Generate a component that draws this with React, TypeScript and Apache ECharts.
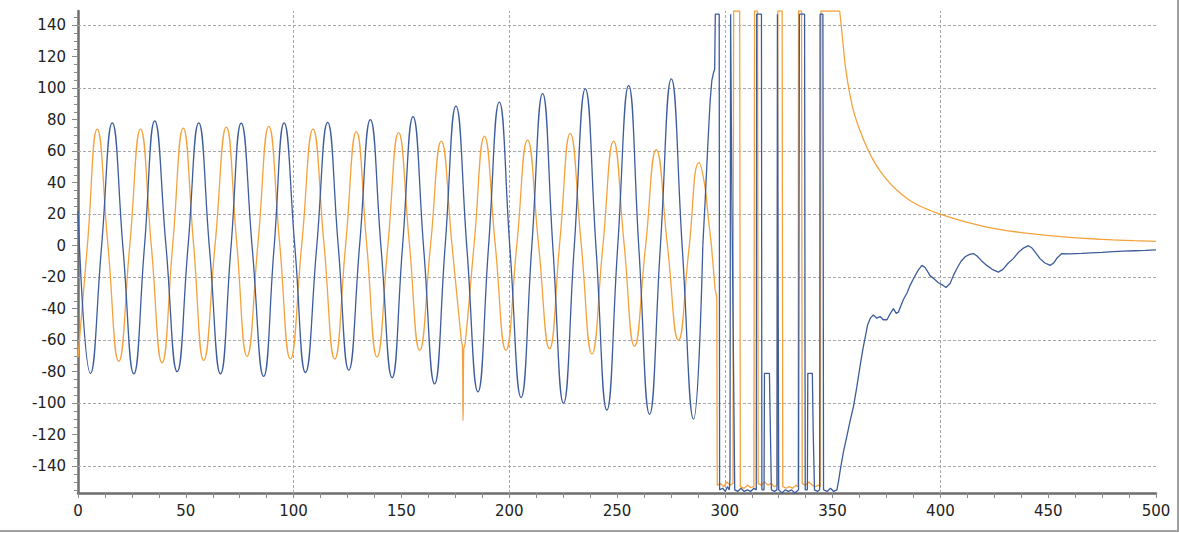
import React, { useEffect, useRef } from "react";
import * as echarts from "echarts";

// ---- data (x, y) ----
const orangeWave: [number, number][] = [
  [0, -71], [4.4, 1], [8.9, 74], [13.9, 0], [18.9, -73.4], [24.0, 0], [29.0, 74], [34.0, 0],
  [39.0, -74.4], [43.9, 0], [48.8, 74.7], [53.6, 1], [58.3, -72.8], [63.6, 1], [68.8, 75.3],
  [73.6, 2], [78.4, -70.2], [83.5, 2], [88.5, 75.7], [93.5, 2], [98.5, -71.9], [103.8, 1],
  [109.0, 74], [114.1, 1], [119.1, -71.9], [124.1, 0], [129.1, 72.4], [133.9, 1], [138.7, -70.8],
  [143.7, 0], [148.7, 71.8], [153.6, 3], [158.5, -66.5], [163.5, 0], [168.5, 66.4], [173.5, 0],
  [177.8, -60], [178.3, -64], [178.6, -111], [178.9, -66], [179.6, -62], [183.8, 2], [188.5, 69.6],
  [193.5, 1], [198.5, -66.5], [203.5, 0], [208.5, 67], [213.6, 1], [218.7, -65.4], [223.5, 3],
  [228.3, 71.3], [233.4, 1], [238.4, -68.7], [243.4, -1], [248.4, 66.4], [253.3, 1], [258.1, -63.9],
  [263.2, -1], [268.2, 61], [273.4, 0], [278.5, -60], [283.3, -3], [288.1, 52.8], [290.5, 40], [292.0, 22],
];

const orangeRest: [number, number][] = [
  [292.0, 22], [293.8, 0], [295.5, -27.6], [296.3, -33], [296.5, -152], [298.0, -151], [299.5, -153],
  [301.0, -150], [302.5, -152], [303.8, -151], [304.1, 149], [306.9, 149], [307.2, -153], [309.0, -154],
  [310.5, -152], [312.0, -153.5], [313.5, -153], [313.8, 149], [315.2, 149], [315.5, -151], [317.0, -152],
  [318.5, -150], [320.0, -152], [321.5, -151], [323.0, -153], [324.3, -152], [324.6, 149], [326.6, 149],
  [326.9, -153], [328.5, -154], [330.0, -153], [331.5, -154], [333.0, -152], [334.0, -153], [334.2, 149],
  [335.6, 149], [335.9, -151], [337.5, -152], [339.0, -150], [340.5, -152], [342.0, -153], [343.5, -152],
  [344.3, -153], [344.6, 149], [353.3, 149],
];

const orangeDecay: [number, number][] = [
  [353.3, 149], [354.5, 133], [356.0, 113], [358.0, 96], [360.0, 84], [363.0, 72], [366.0, 62],
  [369.0, 54], [372.0, 47.5], [376.0, 40.5], [380.0, 35], [385.0, 29.5], [390.0, 25.5], [395.0, 22.5],
  [400.0, 20], [406.0, 17.3], [412.0, 15], [420.0, 12.3], [428.0, 10.2], [436.0, 8.6], [444.0, 7.3],
  [452.0, 6.2], [460.0, 5.3], [470.0, 4.4], [480.0, 3.7], [490.0, 3.2], [500.0, 2.8],
];

const blueWave: [number, number][] = [
  [0, 22], [5.8, -81], [10.9, -1], [15.9, 78], [20.9, -2], [25.9, -81.4], [30.8, -1], [35.6, 79.3],
  [40.8, 0], [46.0, -80], [51.0, -1], [56.0, 78], [61.0, -2], [66.1, -81.4], [70.9, -2], [75.7, 77.8],
  [80.9, -3], [86.1, -83], [90.9, -2], [95.6, 78], [100.6, -1], [105.5, -80.5], [110.7, -1], [115.8, 78.3],
  [120.7, 0], [125.6, -79], [130.6, 0], [135.6, 80], [140.6, -2], [145.7, -83.8], [150.5, -1], [155.4, 82],
  [160.4, -3], [165.4, -87.7], [170.3, 0], [175.3, 88.6], [180.4, -2], [185.5, -92.8], [190.4, -1],
  [195.4, 91.2], [200.4, -3], [205.5, -96.3], [210.5, 0], [215.5, 96.6], [220.3, -2], [225.2, -100],
  [230.2, 0], [235.3, 99.5], [240.3, -2], [245.3, -104.3], [250.3, -1], [255.4, 101.6], [260.2, -3],
  [265.1, -107.1], [270.1, -1], [275.2, 105.9], [280.3, -2], [285.5, -110.1], [289.8, 0],
];

const blueRest: [number, number][] = [
  [289.8, 0], [290.9, 29], [292.2, 66], [293.2, 92], [294.0, 105], [294.8, 110], [295.3, 112], [295.6, 147],
  [297.4, 147], [297.6, -155], [299.0, -154], [300.2, -156], [301.2, -153], [302.1, -155], [302.4, -148],
  [302.7, 147], [302.9, 147], [303.3, 30], [304.6, -155], [306.0, -156], [307.5, -154], [309.0, -156],
  [310.5, -155], [312.0, -156], [313.5, -154], [314.6, -155], [314.8, 147], [317.0, 147], [317.2, -155],
  [318.2, -155], [318.4, -81], [320.7, -81], [321.6, -155], [323.0, -156], [324.2, -155], [324.4, 147],
  [324.7, 147], [325.0, -155], [326.5, -157], [328.0, -155], [329.5, -156], [331.0, -155], [332.5, -157],
  [334.2, -155], [334.6, 147], [337.0, 147], [337.3, -155], [338.3, -155], [338.5, -81], [340.6, -81],
  [341.0, -118], [341.6, -155], [343.0, -156], [344.0, -155], [344.2, 147], [345.5, 147], [345.8, -155],
  [347.5, -156], [349.0, -154], [350.5, -156], [352.0, -155], [352.7, -150], [353.6, -142], [355.0, -131],
  [356.6, -121], [358.0, -112], [359.7, -102], [361.2, -90], [362.8, -76], [364.0, -66], [365.0, -59],
  [366.3, -50], [367.5, -46], [368.9, -44], [370.5, -46], [372.0, -45], [373.5, -47], [375.2, -47],
  [376.8, -43], [378.2, -40], [379.5, -43], [380.6, -42], [382.0, -37], [382.9, -34], [384.5, -30],
  [386.0, -25], [387.5, -21], [389.5, -16], [391.4, -12.5], [393.0, -14], [395.2, -19], [397.0, -21],
  [399.1, -23.5], [401.0, -25], [402.6, -26.5], [404.5, -24], [406.0, -19], [407.6, -14.6], [409.5, -10],
  [411.5, -7], [413.5, -5.5], [415.3, -5], [417.0, -6.5], [419.0, -9.5], [421.5, -12.5], [424.0, -15],
  [426.9, -16.8], [429.0, -15], [431.5, -11], [433.8, -8.2], [436.0, -4.5], [438.5, -1.5], [440.8, 0],
  [442.5, -1.5], [444.5, -5], [446.2, -8.2], [448.5, -11], [450.9, -12.5], [452.5, -11], [454.0, -8],
  [456.3, -5], [460.0, -5.2], [465.5, -4.9], [470.0, -4.5], [475.0, -4.2], [480.2, -3.8], [485.0, -3.5],
  [490.0, -3.2], [495.0, -3], [500.0, -2.7],
];

// ---- axis ticks / grid ----
const yLabelValues = [-140, -120, -100, -80, -60, -40, -20, 0, 20, 40, 60, 80, 100, 120, 140];
const yGridValues = [-140, -100, -60, -20, 20, 60, 100, 140];
const xGridValues = [100, 200, 300, 400];
const yMin = -157;
const yMax = 149;

const BLUE = "#3d5c9c";
const ORANGE = "#f4a23c";

export default function App() {
  const ref = useRef<HTMLDivElement>(null);

  useEffect(() => {
    if (!ref.current) return;
    const chart = echarts.init(ref.current, null, { renderer: "svg" });

    const yMinor: number[] = [];
    for (let v = -155; v <= 145; v += 5) {
      if (v % 20 !== 0) yMinor.push(v);
    }

    const axisLineStyle = { color: "#6e6e6e", width: 2.5 };
    const tickStyle = { color: "#8a8a8a", width: 1 };
    const labelStyle = { color: "#222", fontFamily: "DejaVu Sans", fontSize: 15 };
    const lineSeries = (data: [number, number][], color: string, smooth: number | boolean, z: number) => ({
      type: "line",
      data,
      smooth,
      symbol: "none",
      showSymbol: false,
      lineStyle: { color, width: 1.3 },
      z,
    });

    const option: any = {
      animation: false,
      backgroundColor: "#ffffff",
      grid: { left: 78, right: 23, top: 11, bottom: 41, containLabel: false },
      xAxis: [
        {
          type: "value",
          min: 0,
          max: 500,
          interval: 50,
          axisLine: { show: true, onZero: false, lineStyle: axisLineStyle },
          axisTick: { show: true, length: 5, lineStyle: tickStyle },
          minorTick: { show: true, splitNumber: 4, length: 5, lineStyle: tickStyle },
          axisLabel: { ...labelStyle, margin: 10 },
          splitLine: { show: false },
          minorSplitLine: { show: false },
        },
      ],
      yAxis: [
        {
          type: "value",
          min: yMin,
          max: yMax,
          position: "left",
          axisLine: { show: true, onZero: false, lineStyle: axisLineStyle },
          axisTick: { show: true, length: 6, customValues: yLabelValues, lineStyle: tickStyle },
          axisLabel: { ...labelStyle, margin: 12, customValues: yLabelValues },
          splitLine: { show: false },
        },
        {
          type: "value",
          min: yMin,
          max: yMax,
          position: "left",
          offset: 0,
          axisLine: { show: false, onZero: false },
          axisTick: { show: true, length: 4, customValues: yMinor, lineStyle: tickStyle },
          axisLabel: { show: false },
          splitLine: { show: false },
        },
      ],
      series: [
        {
          type: "line",
          data: [],
          silent: true,
          z: 1,
          markLine: {
            silent: true,
            z: 1,
            symbol: ["none", "none"],
            label: { show: false },
            emphasis: { disabled: true },
            lineStyle: { color: "#a8a8a8", width: 1, type: [3, 2] },
            data: [
              ...yGridValues.map((v) => ({ yAxis: v })),
              ...xGridValues.map((v) => ({ xAxis: v })),
            ],
          },
        },
        lineSeries(orangeWave, ORANGE, 0.5, 2),
        lineSeries(orangeRest, ORANGE, false, 2),
        lineSeries(orangeDecay, ORANGE, 0.4, 2),
        lineSeries(blueWave, BLUE, 0.5, 3),
        lineSeries(blueRest, BLUE, false, 3),
      ],
    };

    chart.setOption(option);
    return () => chart.dispose();
  }, []);

  return (
    <div style={{ position: "fixed", left: 0, top: 0, width: 1179, height: 534, background: "#fff" }}>
      <div ref={ref} style={{ position: "absolute", left: 0, top: 0, width: 1179, height: 534 }} />
      <div style={{ position: "absolute", left: 1177, top: 0, width: 2, height: 532, background: "#a0a0a0" }} />
      <div style={{ position: "absolute", left: 0, top: 530, width: 1179, height: 2, background: "#a0a0a0" }} />
    </div>
  );
}
